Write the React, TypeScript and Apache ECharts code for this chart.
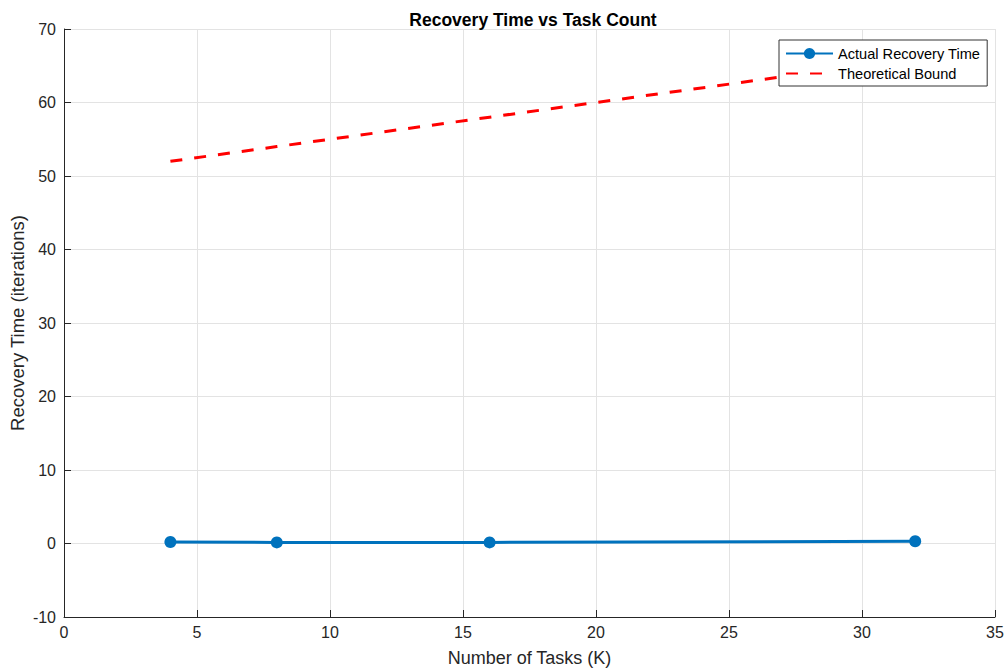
import React, { useEffect, useRef } from "react";
import * as echarts from "echarts";

// Task counts and measured recovery times
const taskCounts = [4, 8, 16, 32];
const actualRecovery = [0.2, 0.15, 0.15, 0.3];
// Theoretical upper bound on recovery time at each task count
const boundTaskCounts = [4, 8, 16, 32];
const theoreticalBound = [52, 54, 58, 66];

const FONT = "'Liberation Sans', Arial, Helvetica, sans-serif";
const AXIS_COLOR = "#262626";
const GRID_COLOR = "#e3e3e3";

export default function App() {
  const ref = useRef<HTMLDivElement>(null);

  useEffect(() => {
    if (!ref.current) return;
    const chart = echarts.init(ref.current, null, { renderer: "svg" });
    chart.setOption({
      animation: false,
      backgroundColor: "#ffffff",
      title: {
        text: "Recovery Time vs Task Count",
        left: 528,
        textAlign: "center",
        top: 6,
        textStyle: { fontFamily: FONT, fontSize: 17.5, fontWeight: "bold", color: "#000" },
      },
      legend: {
        orient: "vertical",
        left: 779,
        top: 40,
        itemWidth: 47,
        itemHeight: 14,
        itemGap: 5,
        padding: [6, 7, 5, 6],
        borderColor: "#333",
        borderWidth: 1,
        borderRadius: 0,
        backgroundColor: "#fff",
        textStyle: { fontFamily: FONT, fontSize: 14.6, color: "#000" },
        data: [
          { name: "Actual Recovery Time" },
          { name: "Theoretical Bound", itemStyle: { opacity: 0 } },
        ],
      },
      grid: {
        left: 64,
        right: 11,
        top: 29,
        bottom: 51,
        containLabel: false,
        outerBoundsMode: "none",
      },
      xAxis: {
        type: "value",
        min: 0,
        max: 35,
        interval: 5,
        name: "Number of Tasks (K)",
        nameLocation: "middle",
        nameGap: 32,
        nameMoveOverlap: false,
        nameTextStyle: { fontFamily: FONT, fontSize: 18, color: AXIS_COLOR },
        axisLine: { show: true, onZero: false, lineStyle: { color: AXIS_COLOR, width: 1 } },
        axisTick: { show: true, inside: true, length: 7, lineStyle: { color: AXIS_COLOR } },
        axisLabel: { fontFamily: FONT, fontSize: 16, color: AXIS_COLOR, margin: 7 },
        splitLine: { show: true, lineStyle: { color: GRID_COLOR, width: 1 } },
      },
      yAxis: {
        type: "value",
        min: -10,
        max: 70,
        interval: 10,
        name: "Recovery Time (iterations)",
        nameLocation: "middle",
        nameGap: 37,
        nameMoveOverlap: false,
        nameTextStyle: { fontFamily: FONT, fontSize: 18.5, color: AXIS_COLOR },
        axisLine: { show: true, onZero: false, lineStyle: { color: AXIS_COLOR, width: 1 } },
        axisTick: { show: true, inside: true, length: 7, lineStyle: { color: AXIS_COLOR } },
        axisLabel: { fontFamily: FONT, fontSize: 16, color: AXIS_COLOR, margin: 8 },
        splitLine: { show: true, lineStyle: { color: GRID_COLOR, width: 1 } },
      },
      series: [
        {
          name: "Actual Recovery Time",
          type: "line",
          data: taskCounts.map((k, i) => [k, actualRecovery[i]]),
          symbol: "circle",
          symbolSize: 12,
          showSymbol: true,
          z: 3,
          lineStyle: { color: "#0072BD", width: 3 },
          itemStyle: { color: "#0072BD" },
        },
        {
          name: "Theoretical Bound",
          type: "line",
          data: boundTaskCounts.map((k, i) => [k, theoreticalBound[i]]),
          symbol: "none",
          z: 2,
          lineStyle: { color: "#FF0000", width: 3, type: [12, 12] },
          itemStyle: { color: "#FF0000" },
        },
      ],
    });
    return () => chart.dispose();
  }, []);

  return (
    <div
      ref={ref}
      style={{ position: "fixed", left: 0, top: 0, width: 1006, height: 668 }}
    />
  );
}
